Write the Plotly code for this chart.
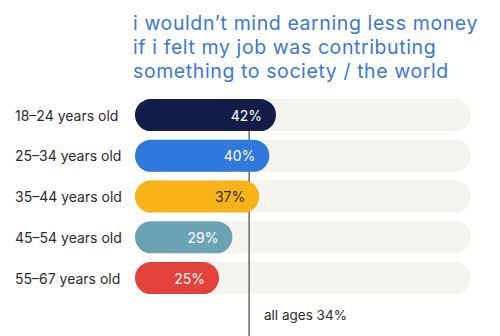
import plotly.graph_objects as go

categories = ["18–24 years old", "25–34 years old", "35–44 years old", "45–54 years old", "55–67 years old"]
values = [42, 40, 37, 29, 25]
bar_colors = ["#131d4a", "#2f78dc", "#f8b318", "#6ba3b5", "#e3423a"]
text_colors = ["#ffffff", "#ffffff", "#2b2b2b", "#ffffff", "#ffffff"]
full_scale = 100
average = 34
title_lines = ["i wouldn’t mind earning less money", "if i felt my job was contributing", "something to society / the world"]
avg_label = "all ages 34%"

W, H = 500, 336
px_per_unit = 3.357
x0_px = 135
xmin = -x0_px / px_per_unit
xmax = xmin + W / px_per_unit
row_px = 40.75
first_row_px = 115
ytop = -first_row_px / row_px
ybot = ytop + H / row_px
bw = 0.79
radius = 16

idx = list(range(len(categories)))
zeros = [0] * len(idx)

fig = go.Figure()
# background pills
fig.add_trace(go.Bar(y=idx, x=[full_scale] * len(idx), base=zeros, orientation="h",
                     width=bw, marker=dict(color="#f4f3ee", cornerradius=radius, line_width=0),
                     hoverinfo="skip", xaxis="x", yaxis="y"))
# average line (between background and coloured bars)
fig.add_trace(go.Scatter(x=[average, average], y=[-bw / 2, ybot], mode="lines",
                         line=dict(color="#6b6b6b", width=1.5), hoverinfo="skip", xaxis="x", yaxis="y"))
# coloured pills on overlaid axes
fig.add_trace(go.Bar(y=idx, x=values, base=zeros, orientation="h", width=bw,
                     marker=dict(color=bar_colors, cornerradius=radius, line_width=0),
                     text=[f"{v}%" for v in values], textposition="inside", insidetextanchor="end",
                     textfont=dict(color=text_colors, size=14, family="Inter"),
                     texttemplate="%{text}  ", textangle=0,
                     hoverinfo="skip", xaxis="x2", yaxis="y2"))

axis_common = dict(showgrid=False, zeroline=False, showticklabels=False, showline=False, fixedrange=True)
fig.update_layout(
    width=W, height=H, margin=dict(l=0, r=0, t=0, b=0),
    paper_bgcolor="white", plot_bgcolor="rgba(0,0,0,0)",
    barmode="overlay", showlegend=False,
    xaxis=dict(range=[xmin, xmax], **axis_common),
    yaxis=dict(range=[ybot, ytop], **axis_common),
    xaxis2=dict(range=[xmin, xmax], overlaying="x", **axis_common),
    yaxis2=dict(range=[ybot, ytop], overlaying="y", **axis_common),
    font=dict(family="Inter", color="#2b2b2b"),
)

for i, c in enumerate(categories):
    fig.add_annotation(x=xmin, y=i, xref="x", yref="y", text=c, showarrow=False,
                       xanchor="left", xshift=13, font=dict(size=14, color="#2b2b2b", family="Inter"))

for j, t in enumerate(title_lines):
    fig.add_annotation(x=0, y=1, xref="x", yref="paper",
                       text=f"<span style='letter-spacing:0.6px'>{t}</span>", showarrow=False,
                       xanchor="left", yanchor="top", align="left", xshift=-3, yshift=-10 - 24 * j,
                       borderpad=0,
                       font=dict(size=19.5, color="#3b78cf", family="Inter"))

fig.add_annotation(x=average, y=ytop + 315 / row_px, xref="x", yref="y", text=avg_label, showarrow=False,
                   xanchor="left", xshift=13, font=dict(size=13.5, color="#2b2b2b", family="Inter"))

fig.write_html("out.html")
